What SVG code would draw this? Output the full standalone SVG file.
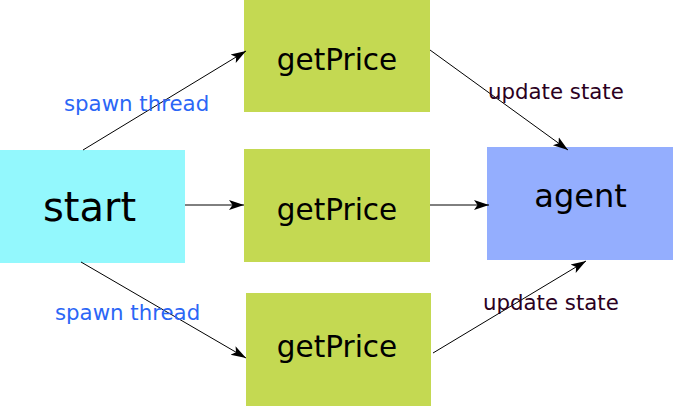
<svg xmlns="http://www.w3.org/2000/svg" width="673" height="406" viewBox="0 0 673 406">
<style>
.n text{font-family:"DejaVu Sans",sans-serif;fill:#000;text-anchor:middle}
.lbl{font-family:"DejaVu Sans",sans-serif;font-size:21.3px}
.sp{fill:#2b66f6}
.up{fill:#2b0021}
.c line{stroke:#000;stroke-width:1;fill:none;marker-end:url(#ah)}
</style>
<defs>
<marker id="ah" markerWidth="20" markerHeight="14" refX="15" refY="7" orient="auto" markerUnits="userSpaceOnUse">
<path d="M0,2 L15,7 L0,12 L3.5,7 Z" fill="#000"/>
</marker>
</defs>
<g id="start" class="n"><rect x="0" y="150" width="185" height="113" fill="#93f8fd"/><text x="89.5" y="221" font-size="40">start</text></g>
<g id="getPrice1" class="n"><rect x="244" y="0" width="186" height="112" fill="#c4d952"/><text x="337" y="70" font-size="29.5">getPrice</text></g>
<g id="getPrice2" class="n"><rect x="244" y="149" width="186" height="113" fill="#c4d952"/><text x="337" y="220" font-size="29.5">getPrice</text></g>
<g id="getPrice3" class="n"><rect x="246" y="293" width="185" height="113" fill="#c4d952"/><text x="337" y="357" font-size="29.5">getPrice</text></g>
<g id="agent" class="n"><rect x="487" y="147" width="186" height="113" fill="#94aefe"/><text x="580.5" y="207" font-size="32">agent</text></g>
<g id="connectors" class="c">
<line x1="83" y1="150" x2="246" y2="51"/>
<line x1="185" y1="205" x2="244" y2="205"/>
<line x1="81" y1="262" x2="246" y2="358"/>
<line x1="430" y1="50" x2="568" y2="150"/>
<line x1="430" y1="205" x2="489" y2="205"/>
<line x1="433" y1="353" x2="586" y2="261"/>
</g>
<g id="labels">
<text class="lbl sp" x="64" y="111">spawn thread</text>
<text class="lbl sp" x="55" y="320">spawn thread</text>
<text class="lbl up" x="488" y="99">update state</text>
<text class="lbl up" x="483" y="310">update state</text>
</g>
</svg>
